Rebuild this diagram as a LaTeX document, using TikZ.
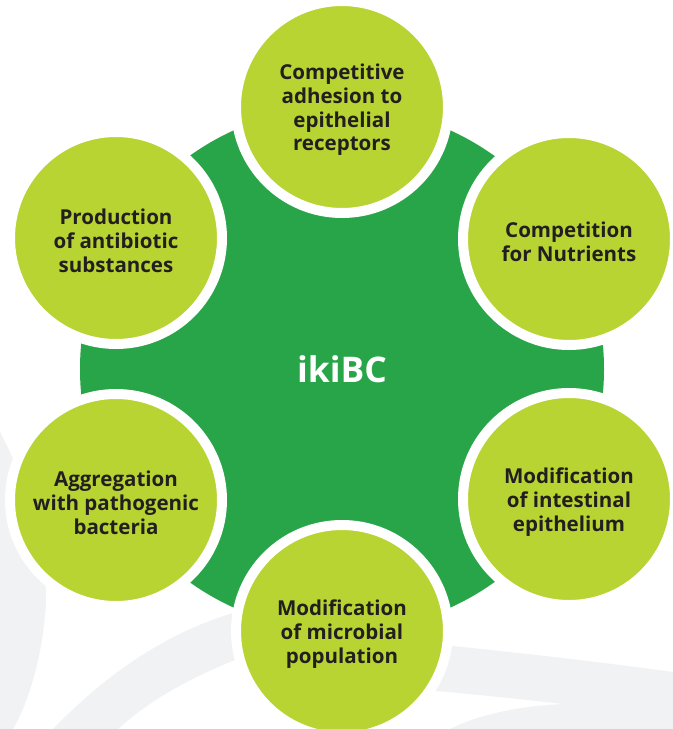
\documentclass[tikz,border=0pt]{standalone}
\usepackage{fontspec}
\setmainfont{Open Sans}
\definecolor{coregreen}{HTML}{29A549}
\definecolor{lime}{HTML}{B8D432}
\definecolor{swoosh}{HTML}{F1F2F4}
\definecolor{ink}{HTML}{231F20}
\begin{document}
\begin{tikzpicture}[x=0.75pt,y=-0.75pt,
  core/.style={circle, fill=coregreen, inner sep=0pt, minimum size=393pt,
    text=white, font=\bfseries\fontsize{26.5}{30}\selectfont},
  effect/.style={circle, fill=lime, draw=white, line width=7.5pt,
    inner sep=0pt, minimum size=159pt, align=center, text=ink,
    font=\bfseries\fontsize{15.4}{17.8}\selectfont},
  label/.style={align=center, text=ink, inner sep=0pt, yshift=-2.25pt,
    font=\bfseries\fontsize{15.4}{17.8}\selectfont}]
\clip (0,0) rectangle (673,729);

% faint background swooshes
\fill[swoosh] (0,432) .. controls (25,480) and (46,540) .. (46,600)
  .. controls (44,650) and (30,700) .. (13,729) -- (0,729) -- cycle;
\fill[swoosh] (53,729) .. controls (110,670) and (170,632) .. (233,613)
  .. controls (300,593) and (380,632) .. (453,646)
  .. controls (530,654) and (600,662) .. (673,672)
  -- (673,704) -- (563,704)
  .. controls (520,699) and (480,695) .. (437,691)
  .. controls (380,685) and (290,640) .. (235,660)
  .. controls (190,678) and (150,700) .. (118,729) -- cycle;
\fill[swoosh] (450,729) .. controls (480,714) and (520,706) .. (563,704)
  .. controls (600,702) and (640,702) .. (673,702) -- (673,729) -- cycle;

% central disc
\node[core] (core) at (342,369) {ikiBC};

% surrounding mechanisms: disc with white rim, then its caption
\node[effect] (adhesion)    at (342,107) {};
\node[effect] (nutrients)   at (569,239) {};
\node[effect] (epithelium)  at (569,499) {};
\node[effect] (microbial)   at (342,631) {};
\node[effect] (aggregation) at (116,500) {};
\node[effect] (antibiotic)  at (116,238) {};

\node[label] (adhesion-text)    at (adhesion)    {Competitive\\adhesion to\\epithelial\\receptors};
\node[label] (nutrients-text)   at (nutrients)   {Competition\\for Nutrients};
\node[label] (epithelium-text)  at (epithelium)  {Modification\\of intestinal\\epithelium};
\node[label] (microbial-text)   at (microbial)   {Modification\\of microbial\\population};
\node[label] (aggregation-text) at (aggregation) {Aggregation\\with pathogenic\\bacteria};
\node[label] (antibiotic-text)  at (antibiotic)  {Production\\of antibiotic\\substances};
\end{tikzpicture}
\end{document}
